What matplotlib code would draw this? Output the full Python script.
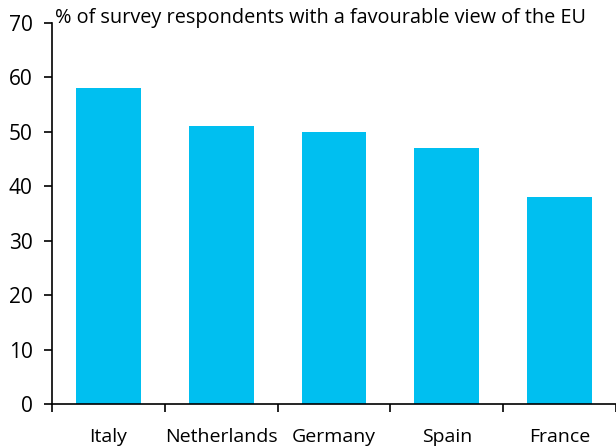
import numpy as np
import matplotlib.pyplot as plt

# favourable view of the EU, % of respondents
countries = ['Italy', 'Netherlands', 'Germany', 'Spain', 'France']
favourable = [58, 51, 50, 47, 38]

plt.rcParams['font.family'] = ['Open Sans', 'DejaVu Sans']
plt.rcParams['font.size'] = 14

fig = plt.figure(figsize=(6.16, 4.47), dpi=100)
ax = fig.add_axes([52/616, 1 - 404/447, 1 - 52/616, (404 - 23)/447])

x = np.arange(len(countries))
ax.bar(x, favourable, width=0.575, color='#00BFF0')

ax.set_xlim(-0.5, len(countries) - 0.5)
ax.set_ylim(0, 70)
ax.set_yticks(range(0, 71, 10))

# category labels centred, tick marks on the boundaries
ax.set_xticks(np.arange(-0.5, len(countries), 1.0))
ax.set_xticklabels([])
ax.set_xticks(x, minor=True)
ax.set_xticklabels(countries, minor=True)
ax.tick_params(axis='x', which='minor', length=0, pad=17)
ax.tick_params(axis='x', which='major', length=6, width=1.2, direction='out')
ax.tick_params(axis='y', length=6, width=1.2, direction='out', pad=8,
               labelsize=15)

for side in ['top', 'right']:
    ax.spines[side].set_visible(False)
for side in ['left', 'bottom']:
    ax.spines[side].set_linewidth(1.2)

ax.text(0.006, 1.0, '% of survey respondents with a favourable view of the EU',
        transform=ax.transAxes, ha='left', va='baseline', fontsize=14.3)

fig.savefig('out.png', dpi=100)
